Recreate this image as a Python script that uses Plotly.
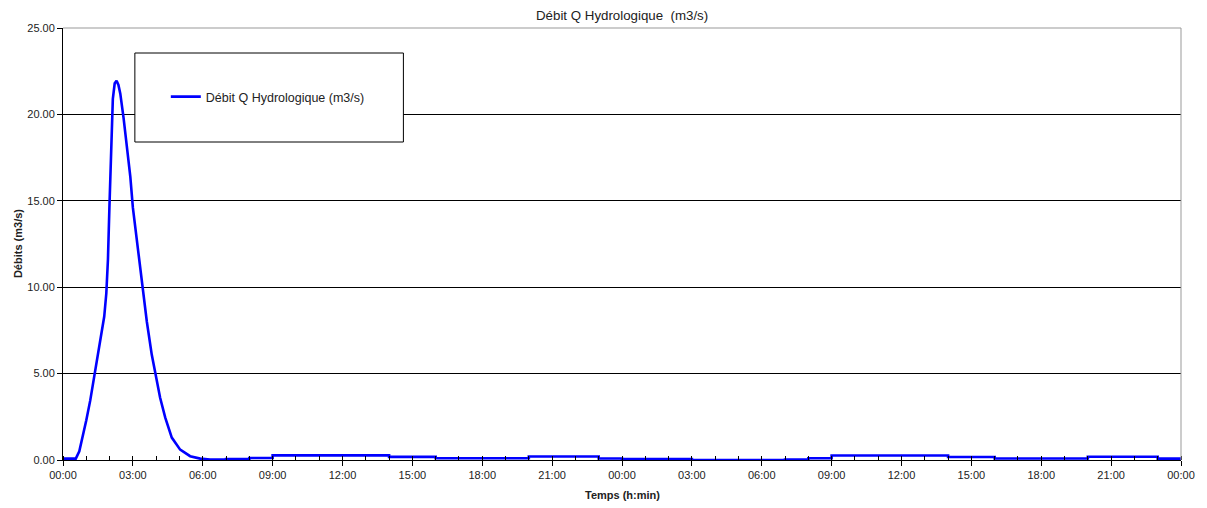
import plotly.graph_objects as go

# ---- data ----
# hydrograph peak (hours, m3/s)
peak_t = [0.0, 0.55, 0.7, 0.81, 1.0, 1.17, 1.36, 1.6, 1.77, 1.86, 1.93, 1.99, 2.06, 2.14,
          2.22, 2.3, 2.38, 2.46, 2.6, 2.77, 2.89, 3.0, 3.17, 3.31, 3.46, 3.6, 3.81, 3.96,
          4.17, 4.39, 4.67, 5.03, 5.46, 5.89, 6.31]
peak_q = [0.08, 0.08, 0.5, 1.12, 2.3, 3.45, 5.0, 6.74, 8.3, 9.65, 11.6, 14.5, 17.8, 20.9,
          21.8, 21.95, 21.7, 21.2, 19.8, 18.0, 16.4, 14.6, 12.75, 11.2, 9.6, 8.0, 6.1, 5.0,
          3.6, 2.45, 1.3, 0.6, 0.22, 0.08, 0.03]
# base flow as hourly steps (start h, end h, m3/s)
step_start = [6.31, 7, 8, 9, 14, 16, 20, 23, 24, 27, 31, 32, 33, 38, 40, 44, 47]
step_end = [7, 8, 9, 14, 16, 20, 23, 24, 27, 31, 32, 33, 38, 40, 44, 47, 48]
step_q = [0.03, 0.05, 0.12, 0.27, 0.18, 0.10, 0.20, 0.09, 0.05, 0.0, 0.03, 0.10, 0.26,
          0.17, 0.09, 0.19, 0.08]

tick_hours = list(range(0, 49, 3))
tick_labels = ["00:00", "03:00", "06:00", "09:00", "12:00", "15:00", "18:00", "21:00",
               "00:00", "03:00", "06:00", "09:00", "12:00", "15:00", "18:00", "21:00", "00:00"]
y_ticks = [0, 5, 10, 15, 20, 25]

title = "Débit Q Hydrologique \u00a0(m3/s)"
series_name = "Débit Q Hydrologique (m3/s)"

# ---- build series ----
t = list(peak_t)
q = list(peak_q)
for s, e, v in zip(step_start, step_end, step_q):
    t += [s, e]
    q += [v, v]

FONT = "Liberation Sans, Arial, sans-serif"

fig = go.Figure()
fig.add_trace(go.Scatter(x=t, y=q, mode="lines", name=series_name,
                         line=dict(color="#0000FF", width=2.6, shape="linear"),
                         showlegend=True))

OFF = 8  # page body margin
W, H = 1207 - OFF, 508 - OFF
# plot area in page pixels: left 63, right 1183, top 28, bottom 460
L, T = 63 - OFF, 28 - OFF
R = W - (1183 - OFF)
B = H - (460 - OFF)
pw, ph = W - L - R, H - T - B

def px(xpage):
    return (xpage - OFF - L) / pw

def py(ypage):
    return (H - B - (ypage - OFF)) / ph

fig.update_layout(
    width=W, height=H,
    margin=dict(l=L, r=R, t=T, b=B, pad=0),
    paper_bgcolor="white", plot_bgcolor="white",
    font=dict(family=FONT, size=11, color="#222222"),
    showlegend=True,
    legend=dict(x=px(166), y=py(97), xanchor="left", yanchor="middle",
                bgcolor="rgba(0,0,0,0)", borderwidth=0,
                font=dict(family=FONT, size=12.5, color="#222222"),
                itemwidth=30),
    xaxis=dict(range=[0, 48], tickvals=tick_hours, ticktext=tick_labels,
               showgrid=False, zeroline=False, showline=True, linecolor="black",
               linewidth=1, ticks="outside", ticklen=5, tickcolor="black",
               tickfont=dict(family=FONT, size=11, color="#222222"),
               minor=dict(dtick=1, ticks="inside", ticklen=4, tickcolor="black",
                          showgrid=False)),
    yaxis=dict(range=[0, 25], tickvals=y_ticks, tickformat=".2f",
               showgrid=True, gridcolor="black", gridwidth=1,
               zeroline=False, showline=True, linecolor="black", linewidth=1,
               ticks="outside", ticklen=5, tickcolor="black",
               tickfont=dict(family=FONT, size=11, color="#222222")),
)

# legend box
fig.add_shape(type="rect", xref="paper", yref="paper",
              x0=px(135), x1=px(404), y0=py(142), y1=py(53),
              line=dict(color="black", width=1), fillcolor="white", layer="above")
# gray top and right frame
fig.add_shape(type="line", xref="paper", yref="paper", x0=0, x1=1, y0=1, y1=1,
              line=dict(color="#999999", width=1), layer="above")
fig.add_shape(type="line", xref="paper", yref="paper", x0=1, x1=1, y0=0, y1=1,
              line=dict(color="#999999", width=1), layer="above")

# titles
fig.add_annotation(text=title, xref="paper", yref="paper", x=0.5, y=py(15),
                   showarrow=False, xanchor="center", yanchor="middle",
                   font=dict(family=FONT, size=13.3, color="#222222"))
fig.add_annotation(text="<b>Temps (h:min)</b>", xref="paper", yref="paper", x=0.5, y=py(495),
                   showarrow=False, xanchor="center", yanchor="middle",
                   font=dict(family=FONT, size=11, color="#222222"))
fig.add_annotation(text="<b>Débits (m3/s)</b>", xref="paper", yref="paper", x=px(18), y=0.5,
                   showarrow=False, xanchor="center", yanchor="middle", textangle=-90,
                   font=dict(family=FONT, size=11, color="#222222"))

fig.write_html("out.html")
